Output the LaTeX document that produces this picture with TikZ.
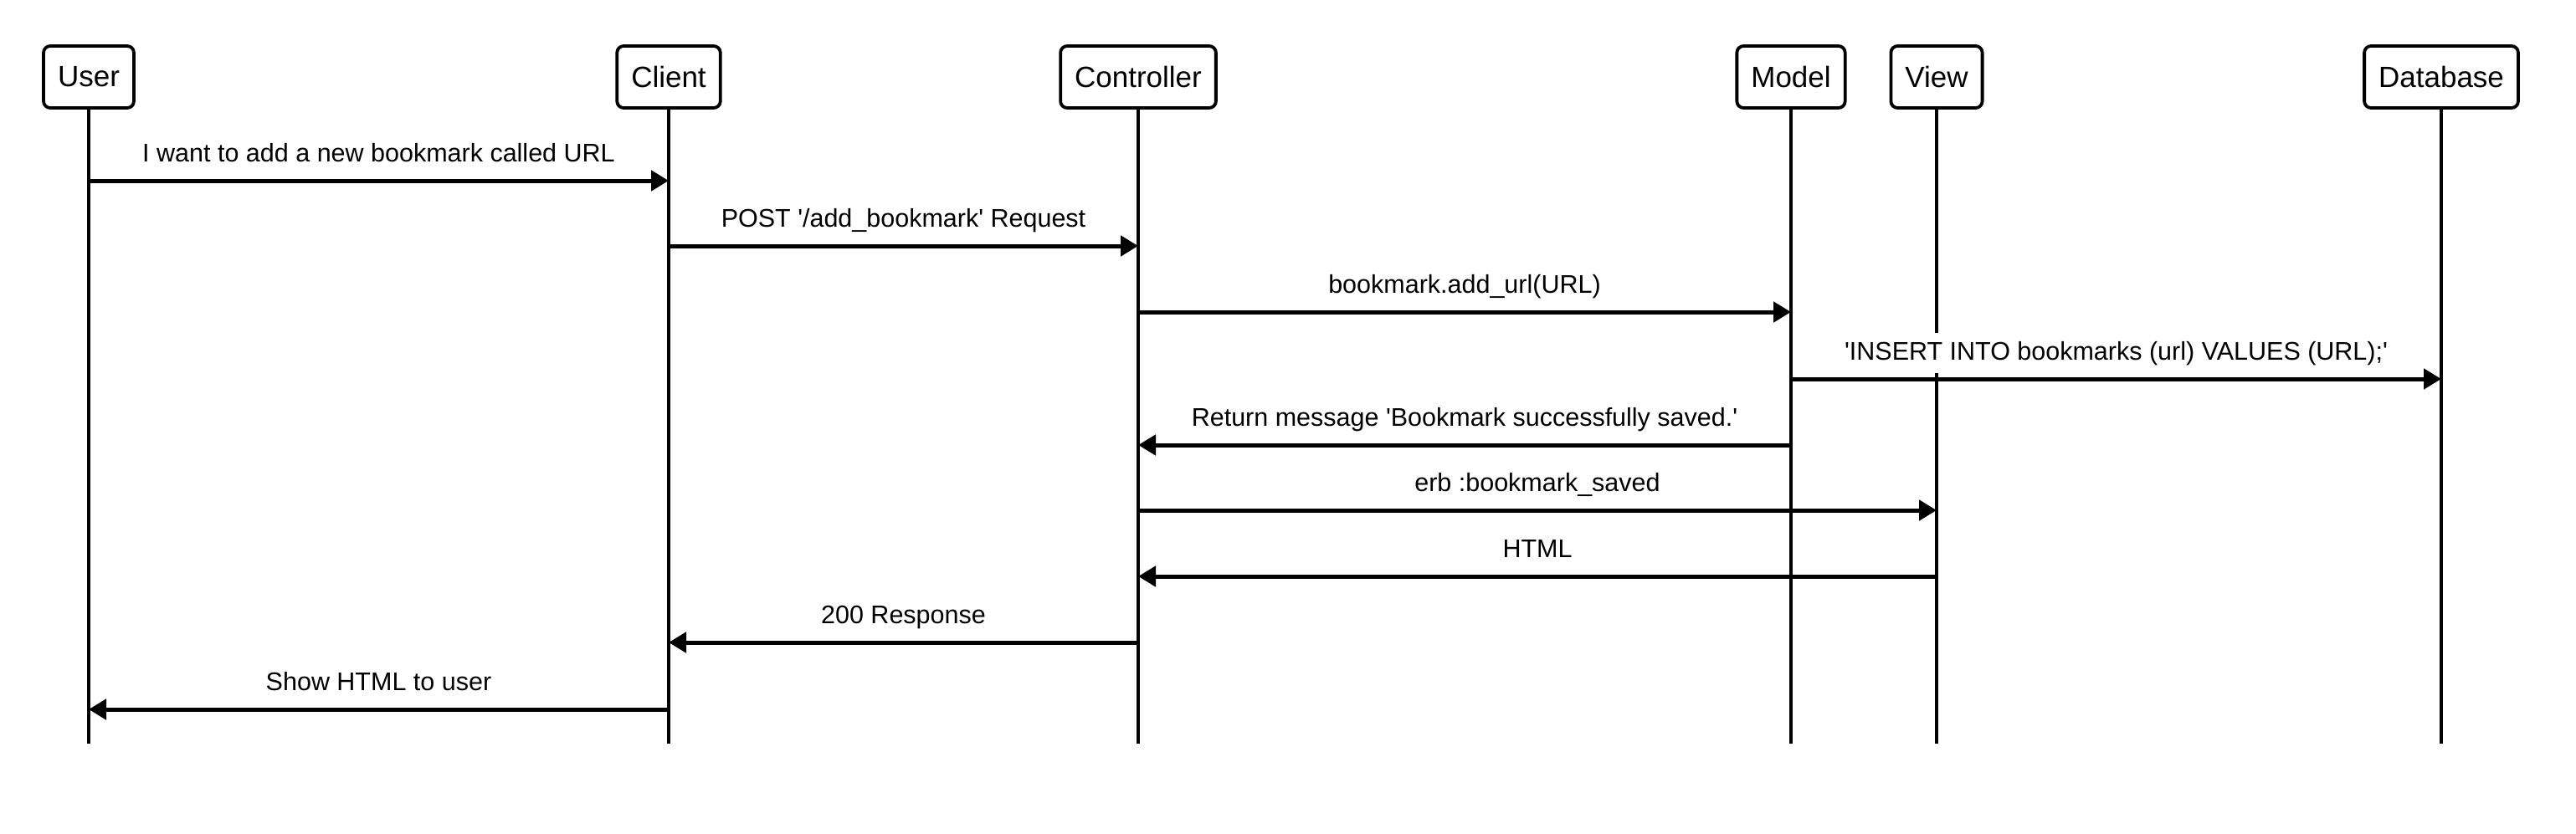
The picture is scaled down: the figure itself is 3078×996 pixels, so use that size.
\documentclass[tikz,border=0pt]{standalone}
\usepackage{fontspec}
\setmainfont{Liberation Sans}
\usetikzlibrary{arrows.meta}
\newcommand{\sq}{\textquotesingle}
\tikzset{
  actor/.style={draw, line width=3.8pt, rounded corners=8pt, minimum height=74pt, inner xsep=17pt, font=\fontsize{35}{40}\selectfont, fill=white},
  life/.style={line width=4pt},
  msg/.style={line width=5pt, -{Triangle[length=21pt,width=24pt]}},
  lbl/.style={fill=white, inner xsep=4pt, inner ysep=10pt, anchor=base, yshift=23pt, font=\fontsize{30.5}{34}\selectfont},
}
\begin{document}
\begin{tikzpicture}[x=1pt,y=-1pt]
\useasboundingbox (0,0) rectangle (3078,996);
\node[actor] (user) at (106,92) {User};
\node[actor] (client) at (799,92) {Client};
\node[actor] (ctrl) at (1360,92) {Controller};
\node[actor] (model) at (2140,92) {Model};
\node[actor] (view) at (2314,92) {View};
\node[actor] (db) at (2917,92) {Database};
\foreach \n in {user,client,ctrl,model,view,db}{
  \coordinate (\n-end) at (\n |- 0,889);
  \draw[life] (\n.south) -- (\n-end);
}
\draw[msg] (user |- 0,216) -- node[lbl]{I want to add a new bookmark called URL} (client |- 0,216);
\draw[msg] (client |- 0,294) -- node[lbl]{POST \sq/add\_bookmark\sq{} Request} (ctrl |- 0,294);
\draw[msg] (ctrl |- 0,373) -- node[lbl]{bookmark.add\_url(URL)} (model |- 0,373);
\draw[msg] (model |- 0,453) -- node[lbl]{\sq INSERT INTO bookmarks (url) VALUES (URL);\sq} (db |- 0,453);
\draw[msg] (model |- 0,532) -- node[lbl]{Return message \sq Bookmark successfully saved.\sq} (ctrl |- 0,532);
\draw[msg] (ctrl |- 0,610) -- node[lbl]{erb :bookmark\_saved} (view |- 0,610);
\draw[msg] (view |- 0,689) -- node[lbl]{HTML} (ctrl |- 0,689);
\draw[msg] (ctrl |- 0,768) -- node[lbl]{200 Response} (client |- 0,768);
\draw[msg] (client |- 0,848) -- node[lbl]{Show HTML to user} (user |- 0,848);
\end{tikzpicture}
\end{document}
